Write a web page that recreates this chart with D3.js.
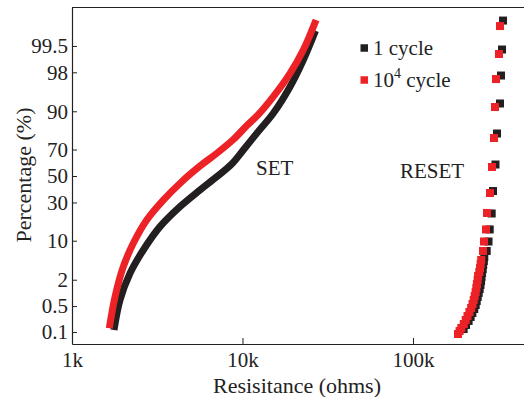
<!DOCTYPE html>
<html lang="en">
<head>
<meta charset="UTF-8">
<title>SET / RESET resistance distribution</title>
<style>
  body { margin: 0; background: #fff; }
  svg text { font-family: 'Liberation Serif', 'DejaVu Serif', 'Noto Serif', 'FreeSerif', 'Nimbus Roman', 'Times New Roman', Times, serif; fill: #222; }
</style>
</head>
<body>
<svg width="524" height="397"></svg>
<script src="https://d3js.org/d3.v7.min.js"></script>
<script>
// resistance in kOhm, cumulative percentage
// SET, 1 cycle (black line)
const set1R   = [1.763, 1.912, 2.189, 2.620, 3.282, 4.300, 5.633, 7.059, 8.645, 10.11, 12.12, 15.16, 19.0, 22.73, 26.8]
const set1Pct = [0.114, 0.70, 2.70, 7.14, 15.8, 27.2, 39.1, 49.4, 59.4, 69.7, 80.1, 89.3, 96.15, 98.92, 99.80]
// SET, 10^4 cycle (red line)
const set2R   = [1.655, 1.787, 2.000, 2.288, 2.743, 3.432, 4.399, 5.633, 7.059, 8.831, 10.58, 12.33, 15.16, 19.0, 22.73, 27.0]
const set2Pct = [0.128, 0.83, 3.63, 9.13, 19.2, 31.7, 45.5, 57.8, 67.3, 76.5, 84.0, 88.7, 94.2, 97.9, 99.37, 99.9]
// RESET, 1 cycle (black squares)
const reset1R   = [337.3, 332.7, 328.2, 323.8, 311.0, 304.7, 294.6, 289.4, 281.8, 277.3, 270.6, 261.9, 260.2, 258.0, 256.3,
                   254.2, 252.2, 250.8, 248.8, 246.1, 242.8, 239.6, 236.4, 233.2, 228.8, 223.0, 217.7, 211.9, 204.6, 198.1]
const reset1Pct = [99.896, 99.388, 97.67, 92.45, 80.0, 59.0, 38.3, 22.9, 14.5, 9.73, 6.88, 5.44, 4.62, 3.90, 3.27,
                   2.74, 2.28, 1.88, 1.55, 1.26, 1.03, 0.83, 0.666, 0.532, 0.422, 0.333, 0.262, 0.205, 0.159, 0.122]
// RESET, 10^4 cycle (red squares)
const reset2R   = [323.8, 319.4, 306.7, 302.6, 298.6, 290.6, 282.9, 271.7, 268.1, 260.9, 257.4, 251.2, 249.2, 247.2, 244.8, 240.9,
                   239.3, 237.1, 235.2, 233.0, 230.1, 227.0, 223.4, 219.2, 214.2, 208.8, 203.8, 198.6, 192.0, 187.6, 183.6]
const reset2Pct = [99.851, 99.215, 97.26, 91.41, 77.4, 57.1, 36.8, 23.2, 14.5, 9.73, 6.88, 4.81, 4.07, 3.42, 2.87, 2.39,
                   1.97, 1.62, 1.33, 1.08, 0.875, 0.705, 0.562, 0.448, 0.354, 0.279, 0.218, 0.169, 0.131, 0.107, 0.0877]

const xTicks = [1, 10, 100]
const yTicks = [0.1, 0.5, 2, 10, 30, 50, 70, 90, 98, 99.5]
const seriesNames = ['1 cycle', '10']
const colors = ['#231f20', '#ec2227']

// inverse normal cdf (Acklam)
function probit (p) {
    const a = [-3.969683028665376e+01, 2.209460984245205e+02, -2.759285104469687e+02, 1.383577518672690e+02, -3.066479806614716e+01, 2.506628277459239e+00]
    const b = [-5.447609879822406e+01, 1.615858368580409e+02, -1.556989798598866e+02, 6.680131188771972e+01, -1.328068155288572e+01]
    const c = [-7.784894002430293e-03, -3.223964580411365e-01, -2.400758277161838e+00, -2.549732539343734e+00, 4.374664141464968e+00, 2.938163982698783e+00]
    const d = [7.784695709041462e-03, 3.224671290700398e-01, 2.445134137142996e+00, 3.754408661907416e+00]
    const pl = 0.02425
    let q, r
    if (p < pl) {
        q = Math.sqrt(-2 * Math.log(p))
        return (((((c[0]*q+c[1])*q+c[2])*q+c[3])*q+c[4])*q+c[5]) / ((((d[0]*q+d[1])*q+d[2])*q+d[3])*q+1)
    }
    if (p > 1 - pl) {
        q = Math.sqrt(-2 * Math.log(1 - p))
        return -(((((c[0]*q+c[1])*q+c[2])*q+c[3])*q+c[4])*q+c[5]) / ((((d[0]*q+d[1])*q+d[2])*q+d[3])*q+1)
    }
    q = p - 0.5
    r = q * q
    return (((((a[0]*r+a[1])*r+a[2])*r+a[3])*r+a[4])*r+a[5])*q / (((((b[0]*r+b[1])*r+b[2])*r+b[3])*r+b[4])*r+1)
}

const svg = d3.select('svg')
const margin = {left: 72, top: 7, bottom: 344, right: 526}

const x = d3.scaleLog().domain([1, 460]).range([margin.left, margin.right])
const z = d3.scaleLinear().domain([-3.327, 3.347]).range([margin.bottom, margin.top])
const y = p => z(probit(p / 100))

// frame top
svg.append('line')
    .attr('x1', margin.left).attr('x2', margin.right)
    .attr('y1', margin.top + 0.5).attr('y2', margin.top + 0.5)
    .attr('stroke', '#222').attr('stroke-width', 1.2)

// axes
svg.append('g')
    .attr('transform', 'translate(0,' + margin.bottom + ')')
    .attr('color', '#222')
    .call(d3.axisBottom(x).tickValues(xTicks).tickFormat(d => d + 'k')
        .tickSizeInner(-6).tickSizeOuter(0).tickPadding(8))
    .call(g => g.attr('font-size', 21).attr('font-family', null))
    .call(g => g.select('.domain').attr('stroke-width', 1.2))

svg.append('g')
    .attr('transform', 'translate(' + margin.left + ',0)')
    .attr('color', '#222')
    .call(d3.axisLeft(z).tickValues(yTicks.map(p => probit(p / 100)))
        .tickFormat((d, i) => yTicks[i]).tickSizeInner(-5).tickSizeOuter(0).tickPadding(4))
    .call(g => g.attr('font-size', 21).attr('font-family', null))
    .call(g => g.select('.domain').attr('stroke-width', 1.2))

// axis titles
svg.append('text')
    .attr('x', 297).attr('y', 393)
    .attr('text-anchor', 'middle').attr('font-size', 22)
    .text('Resisitance (ohms)')

svg.append('text')
    .attr('transform', 'translate(31,175) rotate(-90)')
    .attr('text-anchor', 'middle').attr('font-size', 22)
    .text('Percentage (%)')

// SET lines
const line = d3.line()
    .x(d => x(d[0]))
    .y(d => y(d[1]))
    .curve(d3.curveCatmullRom.alpha(0.5))

const setSeries = [d3.zip(set1R, set1Pct), d3.zip(set2R, set2Pct)]
setSeries.forEach((s, i) => {
    svg.append('path')
        .datum(s)
        .attr('d', line)
        .attr('fill', 'none')
        .attr('stroke', colors[i])
        .attr('stroke-width', 7)
        .attr('stroke-linecap', 'butt')
})

// RESET squares
const resetSeries = [d3.zip(reset1R, reset1Pct), d3.zip(reset2R, reset2Pct)]
resetSeries.forEach((s, i) => {
    svg.append('g')
        .selectAll('rect')
        .data(s)
        .enter()
        .append('rect')
        .attr('x', d => x(d[0]) - 4)
        .attr('y', d => y(d[1]) - 4)
        .attr('width', 8)
        .attr('height', 8)
        .attr('fill', colors[i])
})

// labels
svg.append('text').attr('x', 256).attr('y', 175).attr('font-size', 21).text('SET')
svg.append('text').attr('x', 400).attr('y', 178).attr('font-size', 21).text('RESET')

// legend
const legend = svg.append('g')
const legendY = [48, 80]
seriesNames.forEach((name, i) => {
    legend.append('rect')
        .attr('x', 360.5).attr('y', legendY[i] - 3.75)
        .attr('width', 7.5).attr('height', 7.5)
        .attr('fill', colors[i])
    const t = legend.append('text')
        .attr('x', 373).attr('y', legendY[i] + 7)
        .attr('font-size', 21)
        .text(name)
    if (i === 1) {
        t.append('tspan').attr('font-size', 14).attr('dy', -9).text('4')
        t.append('tspan').attr('dy', 9).text(' cycle')
    }
})
</script>
</body>
</html>
